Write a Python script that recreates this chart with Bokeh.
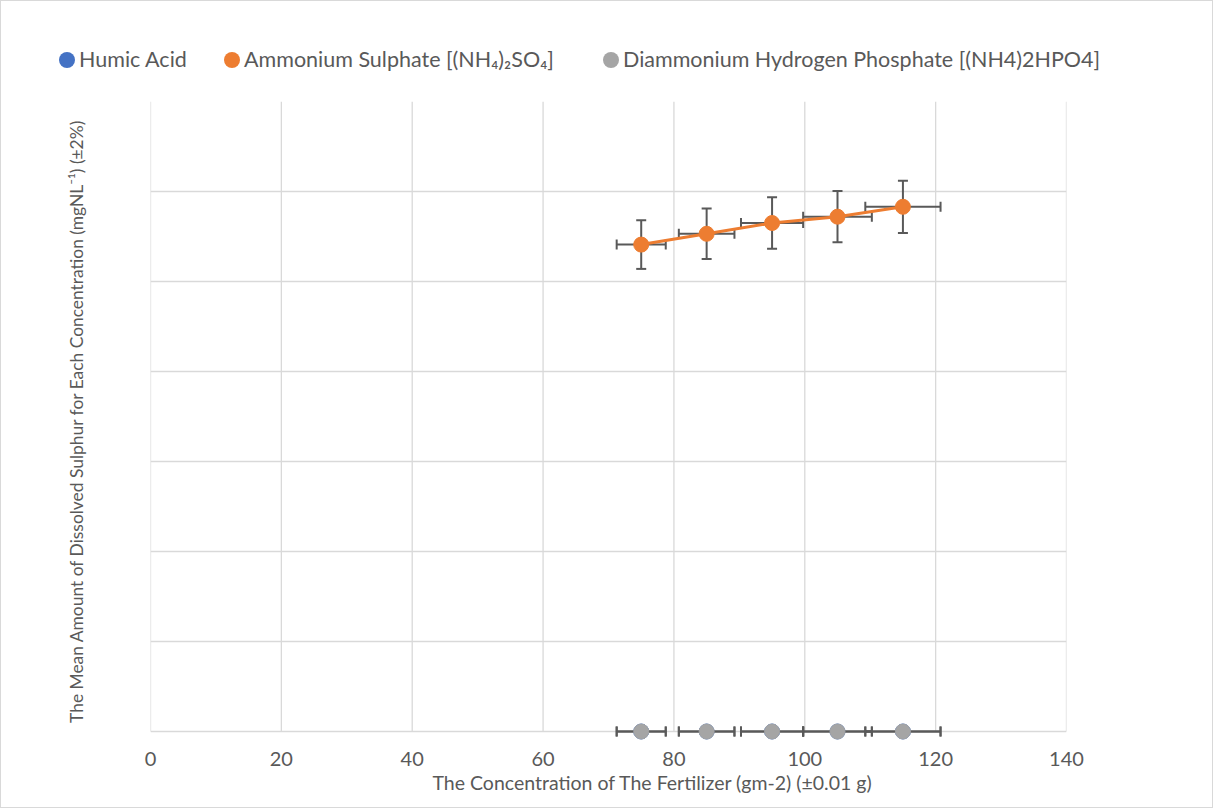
import numpy as np
from bokeh.plotting import figure
from bokeh.layouts import column
from bokeh.models import ColumnDataSource, FixedTicker, Title, Div
from bokeh.embed import file_html
from bokeh.resources import INLINE

# ---- data ----
concentration = [75, 85, 95, 105, 115]
x_error = [3.75, 4.25, 4.75, 5.25, 5.75]
humic_acid = [0, 0, 0, 0, 0]
ammonium_sulphate = [54.1, 55.3, 56.5, 57.2, 58.3]
ammonium_sulphate_err = [2.7, 2.8, 2.85, 2.85, 2.9]
dap = [0, 0, 0, 0, 0]
dap_err = [0, 0, 0, 0, 0]
x_ticks = [0, 20, 40, 60, 80, 100, 120, 140]
y_ticks = [0, 10, 20, 30, 40, 50, 60, 70]
series_names = ["Humic Acid",
                "Ammonium Sulphate [(NH\u2084)\u2082SO\u2084]",
                "Diammonium Hydrogen Phosphate [(NH4)2HPO4]"]

BLUE = "#4472C4"
ORANGE = "#ED7D31"
GREY = "#A5A5A5"
ERR = "#595959"
GRID = "#D9D9D9"
TXT = "#595959"
FONT = "Lato"
W = 1211

# ---------- main plot ----------
p = figure(width=W, height=714, output_backend="svg", toolbar_location=None,
           x_range=(0, 140), y_range=(-1, 70),
           min_border_left=149, min_border_right=146, min_border_top=8, min_border_bottom=67)
p.outline_line_color = None

p.xaxis.ticker = FixedTicker(ticks=x_ticks)
p.yaxis.ticker = FixedTicker(ticks=[])
p.xgrid.visible = False
p.ygrid.ticker = FixedTicker(ticks=y_ticks)
p.ygrid.grid_line_color = GRID
p.ygrid.grid_line_width = 1.3

# vertical gridlines spanning only the value area (0..70)
p.segment(x0=x_ticks, y0=[y_ticks[0]] * len(x_ticks), x1=x_ticks, y1=[y_ticks[-1]] * len(x_ticks),
          line_color=GRID, line_width=1.3)

p.xaxis.axis_line_color = None
p.yaxis.axis_line_color = None
for ax in (p.xaxis[0], p.yaxis[0]):
    ax.major_tick_line_color = None
    ax.minor_tick_line_color = None
    ax.major_tick_out = 0
    ax.major_tick_in = 0
    ax.minor_tick_out = 0
    ax.major_label_text_font = FONT
    ax.major_label_text_color = TXT
    ax.axis_label_text_font = FONT
    ax.axis_label_text_color = TXT
    ax.axis_label_text_font_style = "normal"
p.xaxis.major_label_text_font_size = "20px"
p.xaxis.major_label_standoff = 11
p.yaxis.axis_label = "The Mean Amount of Dissolved Sulphur for Each Concentration (mgNL\u207b\u00b9) (±2%)"
p.yaxis.axis_label_text_font_size = "17.4px"
p.yaxis.axis_label_standoff = 64

xt = Title(text="The Concentration of The Fertilizer (gm-2) (±0.01 g)", align="left", offset=282,
           text_font=FONT, text_font_size="19.5px", text_color=TXT, text_font_style="normal",
           standoff=1)
p.add_layout(xt, "below")

def error_bars(fig, xs, ys, xerr, yerr):
    xs = np.array(xs, float); ys = np.array(ys, float)
    xerr = np.array(xerr, float); yerr = np.array(yerr, float)
    src = ColumnDataSource(dict(x=xs, y=ys, xl=xs - xerr, xh=xs + xerr, yl=ys - yerr, yh=ys + yerr))
    kw = dict(source=src, line_color=ERR, line_width=2)
    fig.segment(x0="xl", y0="y", x1="xh", y1="y", **kw)
    fig.scatter(x="xl", y="y", marker="dash", size=10, angle=np.pi / 2, **kw)
    fig.scatter(x="xh", y="y", marker="dash", size=10, angle=np.pi / 2, **kw)
    if np.any(yerr > 0):
        fig.segment(x0="x", y0="yl", x1="x", y1="yh", **kw)
        fig.scatter(x="x", y="yl", marker="dash", size=10, **kw)
        fig.scatter(x="x", y="yh", marker="dash", size=10, **kw)

# Humic acid (hidden under DAP at zero)
error_bars(p, concentration, humic_acid, x_error, [0] * 5)
p.scatter(concentration, humic_acid, size=15, fill_color=BLUE, line_color=BLUE)

# Ammonium sulphate
error_bars(p, concentration, ammonium_sulphate, x_error, ammonium_sulphate_err)
p.line(concentration, ammonium_sulphate, line_color=ORANGE, line_width=3)
p.scatter(concentration, ammonium_sulphate, size=15, fill_color=ORANGE, line_color=ORANGE)

# DAP
error_bars(p, concentration, dap, x_error, dap_err)
p.scatter(concentration, dap, size=15, fill_color=GREY, line_color=GREY)

# ---------- legend strip (HTML) ----------
legend_left = [58, 223, 602]   # swatch left edges in px
parts = []
for name, col, lx in zip(series_names, [BLUE, ORANGE, GREY], legend_left):
    parts.append(
        f'<span style="position:absolute;left:{lx}px;top:51px;width:16px;height:16px;'
        f'border-radius:50%;background:{col};"></span>'
        f'<span style="position:absolute;left:{lx + 20}px;top:59px;transform:translateY(-50%);'
        f'line-height:1.2;white-space:nowrap;">{name}</span>')
html = (f'<div style="position:relative;width:{W}px;height:92px;font-family:Lato;'
        f'font-size:21.5px;color:{TXT};">' + "".join(parts) + '</div>')
legend_div = Div(text=html, width=W, height=92, margin=0)

layout = column(legend_div, p, spacing=0)
layout.styles = {"border": "1px solid #D9D9D9"}

open("out.html", "w").write(file_html(layout, INLINE))
